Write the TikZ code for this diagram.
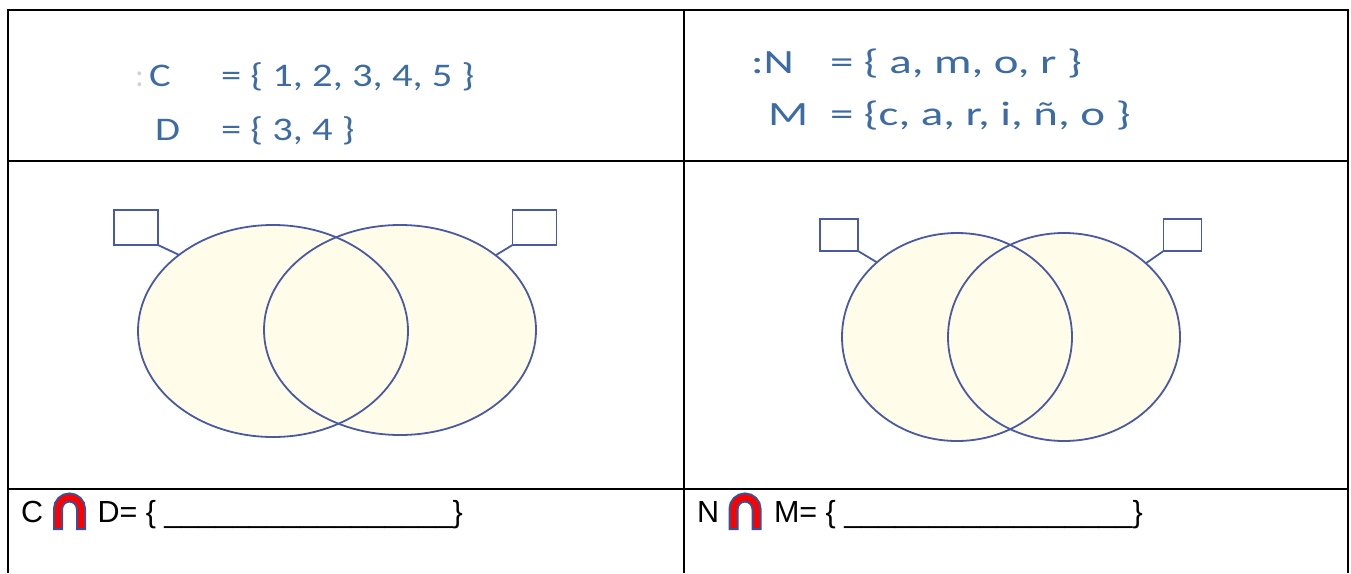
\documentclass[tikz,border=0pt]{standalone}
\usepackage{fontspec}
\setmainfont{Liberation Sans}
\newfontfamily\calib{Carlito}
\usetikzlibrary{shapes.geometric,backgrounds}
\definecolor{setblue}{HTML}{3D6BA3}
\definecolor{vennline}{HTML}{4A5AA2}
\definecolor{vennfill}{HTML}{FFFDEA}
\definecolor{capblue}{HTML}{2F55A0}
\newcommand{\sxl}[1]{\scalebox{1.23}[1]{#1}}
\newcommand{\sxr}[1]{\scalebox{1.38}[1]{#1}}
\begin{document}
\begin{tikzpicture}[x=1pt,y=-1pt,
  tablerule/.style={line width=2.5pt,black},
  toptext/.style={inner sep=0pt,outer sep=0pt,anchor=base west,text=setblue,font=\calib\fontsize{33}{33}\selectfont},
  toptextr/.style={toptext,font=\calib\fontsize{34}{34}\selectfont},
  anstext/.style={inner sep=0pt,outer sep=0pt,anchor=base west,font=\fontsize{30.5}{30.5}\selectfont},
  vennset/.style={ellipse,draw=vennline,line width=1.8pt,inner sep=0pt,outer sep=0pt},
  labelbox/.style={rectangle,draw=vennline,line width=1.8pt,inner sep=0pt,outer sep=0pt,fill=white},
  vennlink/.style={draw=vennline,line width=1.8pt},
  capout/.style={line width=10pt,capblue},
  capin/.style={line width=6pt,red}
]
\useasboundingbox (0,0) rectangle (1351,573);

% table
\draw[tablerule] (8,573) -- (8,10) -- (1348,10) -- (1348,573);
\draw[tablerule] (684,10) -- (684,573);
\draw[tablerule] (8,161) -- (1348,161);
\draw[tablerule] (8,489) -- (1348,489);

% top-left sets
\node[toptext,text=gray!35] (colC) at (135,86) {:};
\node[toptext] (labC) at (149,86) {\sxl{C}};
\node[toptext] (setC) at (221,86) {\sxl{= \{ 1, 2, 3, 4, 5 \}}};
\node[toptext] (labD) at (155,140) {\sxl{D}};
\node[toptext] (setD) at (221,140) {\sxl{= \{ 3, 4 \}}};

% top-right sets
\node[toptextr] (labN) at (751,73) {\sxr{:N}};
\node[toptextr] (setN) at (830,73) {\sxr{= \{ a, m, o, r \}}};
\node[toptextr] (labM) at (768,125) {\sxr{M}};
\node[toptextr] (setM) at (830,125) {\sxr{= \{c, a, r, i, ñ, o \}}};

% Venn fills
\begin{pgfonlayer}{background}
\fill[white] (0,0) rectangle (1351,573);
\fill[vennfill] (273,331) ellipse [x radius=135, y radius=106];
\fill[vennfill] (400,330) ellipse [x radius=136, y radius=105];
\fill[vennfill] (957,337) ellipse [x radius=115, y radius=104];
\fill[vennfill] (1064,337) ellipse [x radius=116, y radius=104];
\end{pgfonlayer}

% left Venn
\node[vennset,minimum width=270pt,minimum height=212pt] (EC) at (273,331) {};
\node[vennset,minimum width=272pt,minimum height=210pt] (ED) at (400,330) {};
\node[labelbox,minimum width=44pt,minimum height=35pt] (BC) at (136,227.5) {};
\node[labelbox,minimum width=44pt,minimum height=35pt] (BD) at (534.5,227.5) {};
\draw[vennlink] (BC.south east) -- (EC.141);
\draw[vennlink] (BD.south west) -- (ED.38);

% right Venn
\node[vennset,minimum width=230pt,minimum height=208pt] (EN) at (957,337) {};
\node[vennset,minimum width=232pt,minimum height=208pt] (EM) at (1064,337) {};
\node[labelbox,minimum width=38pt,minimum height=32pt] (BN) at (839,235) {};
\node[labelbox,minimum width=38pt,minimum height=32pt] (BM) at (1182.5,235) {};
\draw[vennlink] (BN.south east) -- (EN.137);
\draw[vennlink] (BM.south west) -- (EM.42);

% answer row left
\node[anstext] (ansC) at (21,522) {C};
\draw[capout] (58,530) -- (58,509) arc (180:360:11.5) -- (81,530);
\draw[capin] (58,528) -- (58,509) arc (180:360:11.5) -- (81,528);
\node[anstext] (ansD) at (97.5,522) {D= \{ \_\_\_\_\_\_\_\_\_\_\_\_\_\_\_\_\_\}};

% answer row right
\node[anstext] (ansN) at (697,522) {N};
\draw[capout] (733.5,530) -- (733.5,509) arc (180:360:11.5) -- (756.5,530);
\draw[capin] (733.5,528) -- (733.5,509) arc (180:360:11.5) -- (756.5,528);
\node[anstext] (ansM) at (774,522) {M= \{ \_\_\_\_\_\_\_\_\_\_\_\_\_\_\_\_\_\}};
\end{tikzpicture}
\end{document}
